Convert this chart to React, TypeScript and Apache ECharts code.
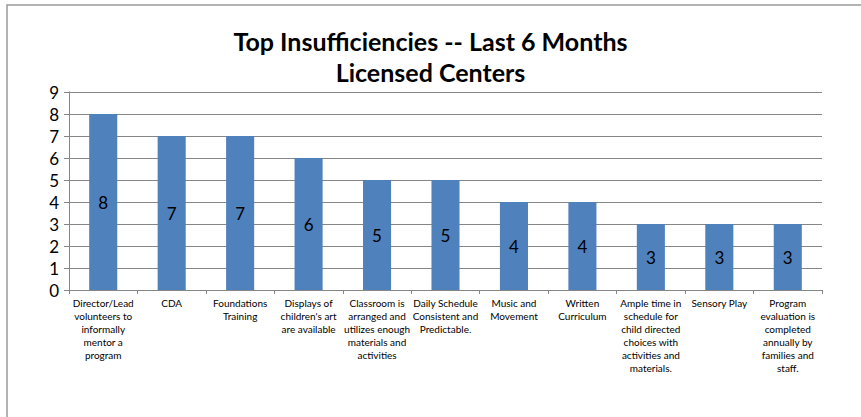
import React, { useEffect, useRef } from "react";
import * as echarts from "echarts";

const titleLines = ["Top Insufficiencies -- Last 6 Months", "Licensed Centers"];

const categories = [
  "Director/Lead\nvolunteers to\ninformally\nmentor a\nprogram",
  "CDA",
  "Foundations\nTraining",
  "Displays of\nchildren's art\nare available",
  "Classroom is\narranged and\nutilizes enough\nmaterials and\nactivities",
  "Daily Schedule\nConsistent and\nPredictable.",
  "Music and\nMovement",
  "Written\nCurriculum",
  "Ample time in\nschedule for\nchild directed\nchoices with\nactivities and\nmaterials.",
  "Sensory Play",
  "Program\nevaluation is\ncompleted\nannually by\nfamilies and\nstaff.",
];

const counts = [8, 7, 7, 6, 5, 5, 4, 4, 3, 3, 3];

const yMin = 0;
const yMax = 9;
const yStep = 1;

const FONT = "Lato, 'Open Sans', sans-serif";

export default function App() {
  const ref = useRef<HTMLDivElement>(null);
  useEffect(() => {
    if (!ref.current) return;
    const chart = echarts.init(ref.current, undefined, { renderer: "svg" });
    chart.setOption({
      animation: false,
      backgroundColor: "#ffffff",
      textStyle: { fontFamily: FONT },
      title: {
        text: titleLines.join("\n"),
        left: "center",
        top: 20,
        textStyle: {
          fontFamily: FONT,
          fontSize: 25,
          fontWeight: "bold",
          color: "#000000",
          lineHeight: 31,
        },
      },
      graphic: [
        {
          type: "rect",
          shape: { x: 7, y: 5, width: 900, height: 500 },
          style: { fill: "none", stroke: "#9a9a9a", lineWidth: 1.5 },
          silent: true,
        },
      ],
      grid: { left: 69, right: 39, top: 92, bottom: 127, containLabel: false },
      xAxis: {
        type: "category",
        data: categories,
        axisLine: { show: true, lineStyle: { color: "#868686", width: 1 } },
        axisTick: { show: true, alignWithLabel: false, length: 4, lineStyle: { color: "#868686" } },
        axisLabel: {
          interval: 0,
          fontFamily: FONT,
          fontSize: 10,
          lineHeight: 13,
          color: "#000000",
          margin: 6,
          align: "center",
        },
      },
      yAxis: {
        type: "value",
        min: yMin,
        max: yMax,
        interval: yStep,
        axisLine: { show: true, lineStyle: { color: "#868686", width: 1 } },
        axisTick: { show: true, length: 5, lineStyle: { color: "#868686" } },
        splitLine: { show: true, lineStyle: { color: "#868686", width: 1 } },
        axisLabel: { fontFamily: FONT, fontSize: 17, color: "#000000", margin: 10 },
      },
      series: [
        {
          type: "bar",
          data: counts,
          barWidth: "41%",
          itemStyle: { color: "#4F81BD" },
          label: {
            show: true,
            position: "inside",
            fontFamily: FONT,
            fontSize: 17,
            color: "#000000",
          },
        },
      ],
    });
    return () => chart.dispose();
  }, []);
  return (
    <div
      ref={ref}
      style={{ position: "fixed", left: 0, top: 0, width: 861, height: 417 }}
    />
  );
}
